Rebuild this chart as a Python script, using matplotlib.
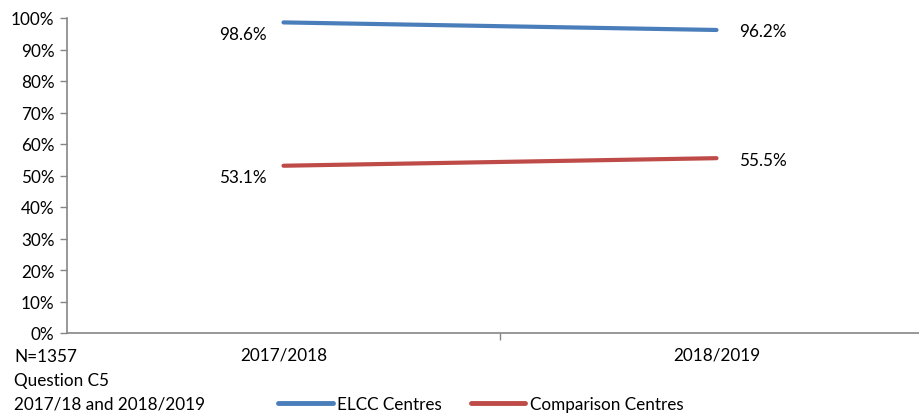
import matplotlib
matplotlib.use("Agg")
import matplotlib.pyplot as plt
from matplotlib.lines import Line2D

years = ["2017/2018", "2018/2019"]
elcc = [98.6, 96.2]
comparison = [53.1, 55.5]
notes = ["N=1357", "Question C5", "2017/18 and 2018/2019"]

BLUE = "#4a7ebb"
RED = "#be4b48"
GREY = "#868686"

plt.rcParams["font.family"] = ["Lato", "DejaVu Sans"]
plt.rcParams["font.size"] = 12.3

fig = plt.figure(figsize=(9.2, 4.14), dpi=100)
ax = fig.add_axes([67 / 920, 1 - 334 / 414, 866 / 920, 315 / 414])

x = list(range(len(years)))
ax.plot(x, elcc, color=BLUE, lw=3.0, solid_capstyle="round", label="ELCC Centres")
ax.plot(x, comparison, color=RED, lw=3.0, solid_capstyle="round", label="Comparison Centres")

# data labels: left of first point, right of last point
for series in (elcc, comparison):
    ax.annotate(f"{series[0]:.1f}%", (x[0], series[0]), xytext=(-12, -8),
                textcoords="offset points", ha="right", va="center")
    ax.annotate(f"{series[1]:.1f}%", (x[1], series[1]), xytext=(16, -1),
                textcoords="offset points", ha="left", va="center")

ax.set_xlim(-0.5, 1.5)
ax.set_ylim(0, 100)
ax.set_yticks(range(0, 101, 10))
ax.set_yticklabels([f"{v}%" for v in range(0, 101, 10)])
ax.set_xticks([0.5])
ax.set_xticklabels([""])
ax.set_xticks(x, minor=True)
ax.set_xticklabels(years, minor=True)
ax.tick_params(axis="x", which="minor", length=0, pad=10)
ax.tick_params(axis="x", which="major", length=5, color=GREY, width=1)
ax.tick_params(axis="y", length=5, color=GREY, width=1, pad=4)

for side in ("top", "right"):
    ax.spines[side].set_visible(False)
for side in ("left", "bottom"):
    ax.spines[side].set_color(GREY)
    ax.spines[side].set_linewidth(1.2)

for i, line in enumerate(notes):
    fig.text(14 / 920, 1 - (357 + 24 * i) / 414, line, ha="left", va="center")

handles = [Line2D([], [], color=BLUE, lw=3.5, solid_capstyle="round"),
           Line2D([], [], color=RED, lw=3.5, solid_capstyle="round")]
fig.legend(handles, ["ELCC Centres", "Comparison Centres"], loc="center left",
           bbox_to_anchor=(278 / 920, 1 - 405 / 414), ncol=2, frameon=False,
           handlelength=3.2, handletextpad=0.25, columnspacing=1.7,
           borderpad=0, borderaxespad=0)

fig.savefig("out.png", dpi=100)
